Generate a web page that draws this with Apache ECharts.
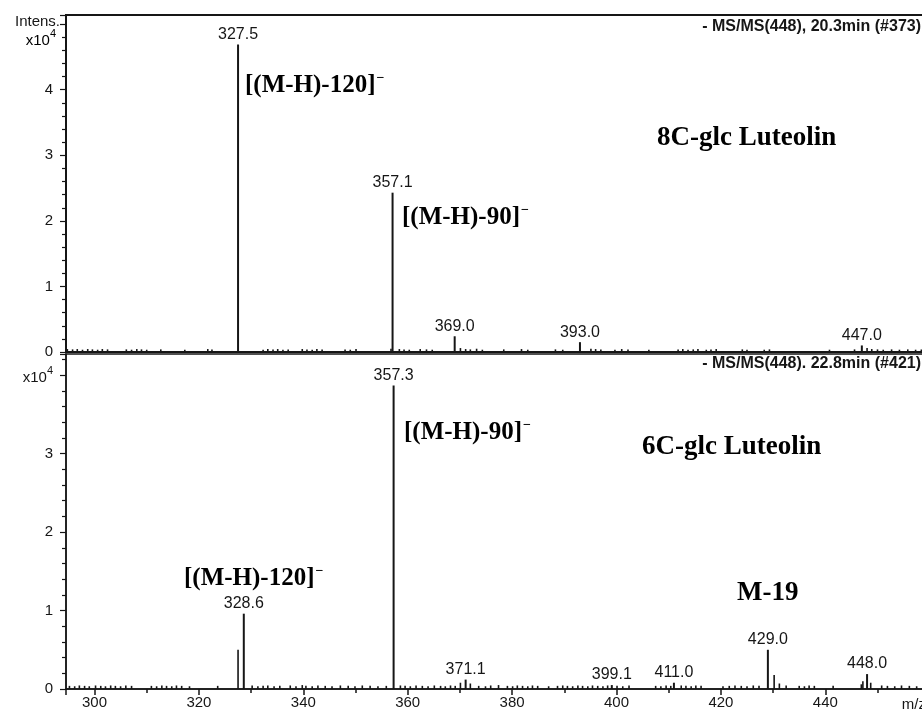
<!DOCTYPE html>
<html>
<head>
<meta charset="utf-8">
<script src="https://cdn.jsdelivr.net/npm/echarts@6/dist/echarts.min.js"></script>
<style>
  html, body { margin: 0; padding: 0; background: #fff; }
  #chart { width: 922px; height: 713px; }
</style>
</head>
<body>
<div id="chart"></div>
<script>
// ---- 8C-glc Luteolin, MS/MS(448) at 20.3 min: labelled fragment ions ----
const topPeakMz  = [327.5, 357.1, 369.0, 393.0, 447.0];
const topPeakInt = [46900, 24300, 2400, 1500, 1000];

// small unlabelled ions along the baseline
const topMinorMz  = [294.8, 295.8, 296.7, 297.7, 298.7, 299.6, 300.6, 301.5, 302.5,
  306.1, 307.1, 308.1, 309.0, 310.0, 312.7, 317.3, 321.7, 322.5,
  332.3, 333.2, 334.2, 335.1, 336.1, 337.1, 339.8, 340.7, 341.7, 342.6, 343.6,
  348.0, 349.0, 350.1, 356.8, 358.4, 359.3, 360.3, 362.4, 363.6, 364.7,
  370.1, 371.1, 372.0, 373.2, 374.3, 378.4, 381.8, 383.0, 388.3, 389.7,
  395.1, 396.0, 397.0, 399.7, 401.0, 402.2, 406.2, 411.8, 412.7, 413.7, 414.7, 415.6,
  417.2, 418.1, 419.1, 424.1, 425.0, 428.3, 429.3, 440.8, 445.6,
  448.0, 448.9, 450.0, 451.1, 452.7, 454.2, 455.8, 457.3, 458.4];
const topMinorInt = [450, 400, 450, 350, 450, 400, 350, 450, 400,
  400, 350, 450, 400, 350, 400, 350, 450, 400,
  350, 450, 400, 450, 350, 400, 450, 400, 350, 450, 400,
  400, 350, 450, 500, 450, 400, 350, 450, 400, 350,
  600, 450, 400, 500, 350, 400, 450, 350, 400, 350,
  500, 450, 400, 350, 450, 400, 350, 400, 450, 350, 400, 450,
  350, 400, 450, 400, 350, 350, 400, 350, 400,
  600, 450, 400, 350, 400, 350, 400, 350, 400];

// ---- 6C-glc Luteolin, MS/MS(448) at 22.8 min ----
const botPeakMz  = [328.6, 357.3, 371.1, 399.1, 411.0, 429.0, 448.0];
const botPeakInt = [9600, 38700, 1200, 500, 800, 5000, 1900];

const botMinorMz  = [327.5, 430.2, 431.2, 447.2, 448.7, 370.1, 372.0,
  295.2, 296.2, 297.1, 298.1, 299.0, 300.2, 301.2, 302.1, 303.1, 304.0, 305.0, 306.0, 307.1,
  310.9, 311.9, 312.9, 313.8, 314.8, 315.7, 316.7, 318.2, 323.6,
  330.2, 331.3, 332.3, 333.2, 334.4, 335.5, 337.5, 338.6, 339.8, 340.5, 341.7, 342.8,
  344.2, 345.5, 347.1, 348.6, 349.9, 351.3, 352.8, 354.3, 355.9,
  358.6, 359.5, 360.5, 361.6, 362.8, 363.9, 365.1, 366.3, 367.2, 368.2, 369.1,
  373.6, 374.9, 375.9, 377.4, 379.1, 380.1, 381.0, 382.0, 383.0, 383.9, 384.9,
  387.0, 388.7, 389.7, 390.6, 391.6, 392.6, 393.5, 394.5, 395.4, 396.4, 397.4, 398.3,
  400.1, 401.2, 402.4, 407.5, 408.5, 409.5, 410.4, 412.4, 413.3, 414.3, 415.2, 416.2,
  420.4, 421.6, 422.7, 423.9, 425.0, 426.2, 427.3, 432.5, 435.0, 436.0, 436.9, 437.9,
  441.5, 446.9, 450.8, 451.9, 453.3, 454.6, 456.1, 457.5];
const botMinorInt = [5000, 1800, 700, 1000, 800, 800, 700,
  400, 350, 450, 400, 350, 450, 400, 350, 450, 400, 350, 450, 400,
  400, 350, 450, 400, 350, 450, 400, 350, 400,
  450, 350, 400, 450, 350, 400, 450, 350, 500, 400, 350, 450,
  400, 350, 450, 400, 350, 450, 400, 350, 400,
  450, 400, 350, 450, 400, 350, 450, 400, 350, 450, 400,
  400, 350, 450, 500, 400, 350, 450, 400, 350, 450, 400,
  350, 400, 450, 400, 350, 450, 400, 350, 450, 400, 350, 450,
  400, 350, 450, 400, 350, 450, 400, 450, 400, 350, 450, 400,
  350, 400, 450, 400, 350, 450, 400, 450, 400, 350, 450, 400,
  400, 600, 450, 400, 350, 450, 400, 350];

// text pieces
const intensityUnit = 'x10';
const intensityExp = '4';
const topTitle = '- MS/MS(448), 20.3min (#373)';
const botTitle = '- MS/MS(448). 22.8min (#421)';

const INK = '#161616';
const SANS = '"Liberation Sans", Arial, sans-serif';
const SERIF = '"Liberation Serif", "Times New Roman", serif';

const zip = (xs, ys) => xs.map((x, i) => [x, ys[i]]);

// draws one stick from the baseline to the intensity, optionally with an m/z label
function stickRenderer(width, labelled) {
  return function (params, api) {
    const mz = api.value(0);
    const base = api.coord([mz, 0]);
    const top = api.coord([mz, api.value(1)]);
    const children = [{
      type: 'line',
      shape: { x1: base[0], y1: base[1], x2: top[0], y2: top[1] },
      style: { stroke: INK, lineWidth: width }
    }];
    if (labelled) {
      children.push({
        type: 'text',
        x: top[0], y: top[1] - 2,
        style: {
          text: mz.toFixed(1), textAlign: 'center', textVerticalAlign: 'bottom',
          font: '16px ' + SANS, fill: INK
        }
      });
    }
    return { type: 'group', children };
  };
}

// m/z window of the plot area (the right end runs past the page edge)
const xMin = 294.54, xMax = 460.44;

const chart = echarts.init(document.getElementById('chart'), null, { renderer: 'canvas' });

const superRich = {
  a: { fontFamily: SANS, fontSize: 15, color: INK, lineHeight: 20, verticalAlign: 'bottom' },
  s: { fontFamily: SANS, fontSize: 11, color: INK, lineHeight: 20, verticalAlign: 'top', padding: [0, 0, 7, 0] }
};
function annRich(size) {
  return {
    b: { fontFamily: SERIF, fontWeight: 'bold', fontSize: size, color: INK, lineHeight: 30 },
    m: { fontFamily: SERIF, fontWeight: 'bold', fontSize: 14, color: INK, lineHeight: 30, verticalAlign: 'top', padding: [0, 0, 15, 1] }
  };
}

function annot(x, y, text, minus, size) {
  return {
    type: 'text', x, y,
    style: {
      text: minus ? '{b|' + text + '}{m|−}' : '{b|' + text + '}',
      rich: annRich(size), textVerticalAlign: 'middle', textAlign: 'left'
    }
  };
}

const commonY = {
  type: 'value', min: 0, interval: 10000,
  axisLine: { show: true, lineStyle: { color: INK, width: 1.5 } },
  axisTick: { show: true, inside: false, length: 6, lineStyle: { color: INK, width: 1.2 } },
  minorTick: { show: true, splitNumber: 5, length: 4, lineStyle: { color: INK, width: 1.2 } },
  splitLine: { show: false },
  axisLabel: { color: INK, fontFamily: SANS, fontSize: 15, margin: 13, showMaxLabel: false }
};

const gridBase = { left: 66, right: -10, show: true, borderColor: INK, backgroundColor: 'transparent',
  outerBoundsMode: 'none', containLabel: false };

chart.setOption({
  animation: false,
  backgroundColor: '#fff',
  grid: [
    Object.assign({}, gridBase, { top: 15, height: 337, borderWidth: 2 }),
    Object.assign({}, gridBase, { top: 354, height: 335, borderWidth: 1.5 })
  ],
  xAxis: [
    { type: 'value', gridIndex: 0, min: xMin, max: xMax,
      axisLine: { show: true, onZero: true, lineStyle: { color: INK, width: 1.5 } },
      axisTick: { show: false }, axisLabel: { show: false }, splitLine: { show: false } },
    { type: 'value', gridIndex: 1, min: xMin, max: xMax, splitNumber: 8,
      axisLine: { show: true, onZero: true, lineStyle: { color: INK, width: 1.5 } },
      axisTick: { show: true, length: 6, lineStyle: { color: INK, width: 1.5 } },
      minorTick: { show: true, splitNumber: 2, length: 4, lineStyle: { color: INK, width: 1.5 } },
      axisLabel: { color: INK, fontFamily: SANS, fontSize: 15, margin: 6, showMinLabel: false, showMaxLabel: false,
        formatter: v => (v > 450 || v < 300) ? '' : String(v) },
      splitLine: { show: false } }
  ],
  yAxis: [
    Object.assign({}, commonY, { gridIndex: 0, max: 51400,
      axisLabel: Object.assign({}, commonY.axisLabel, { formatter: v => v >= 50000 ? '' : String(v / 10000) }) }),
    Object.assign({}, commonY, { gridIndex: 1, max: 42700,
      axisLabel: Object.assign({}, commonY.axisLabel, {
        rich: superRich,
        formatter: v => v === 40000 ? '{a|' + intensityUnit + '}{s|' + intensityExp + '}' : String(v / 10000)
      }) })
  ],
  series: [
    { type: 'custom', xAxisIndex: 0, yAxisIndex: 0, renderItem: stickRenderer(1.6, false), data: zip(topMinorMz, topMinorInt), clip: true },
    { type: 'custom', xAxisIndex: 0, yAxisIndex: 0, renderItem: stickRenderer(2, true), data: zip(topPeakMz, topPeakInt), clip: false },
    { type: 'custom', xAxisIndex: 1, yAxisIndex: 1, renderItem: stickRenderer(1.6, false), data: zip(botMinorMz, botMinorInt), clip: true },
    { type: 'custom', xAxisIndex: 1, yAxisIndex: 1, renderItem: stickRenderer(2, true), data: zip(botPeakMz, botPeakInt), clip: false }
  ],
  graphic: [
    { type: 'text', x: 60, y: 22, style: { text: 'Intens.', font: '15px ' + SANS, fill: INK, textAlign: 'right', textVerticalAlign: 'middle' } },
    { type: 'text', x: 56, y: 38, style: { text: '{a|' + intensityUnit + '}{s|' + intensityExp + '}', rich: superRich, textAlign: 'right', textVerticalAlign: 'middle' } },
    { type: 'text', x: 921, y: 27, style: { text: topTitle, font: 'bold 16px ' + SANS, fill: INK, textAlign: 'right', textVerticalAlign: 'middle' } },
    { type: 'text', x: 921, y: 364, style: { text: botTitle, font: 'bold 16px ' + SANS, fill: INK, textAlign: 'right', textVerticalAlign: 'middle' } },
    { type: 'text', x: 926, y: 705, style: { text: 'm/z', font: '15px ' + SANS, fill: INK, textAlign: 'right', textVerticalAlign: 'middle' } },
    annot(245, 86, '[(M-H)-120]', true, 25),
    annot(402, 218, '[(M-H)-90]', true, 25),
    annot(657, 138, '8C-glc Luteolin', false, 27),
    annot(404, 433, '[(M-H)-90]', true, 25),
    annot(642, 447, '6C-glc Luteolin', false, 27),
    annot(184, 579, '[(M-H)-120]', true, 25),
    annot(737, 593, 'M-19', false, 27)
  ]
});
</script>
</body>
</html>
